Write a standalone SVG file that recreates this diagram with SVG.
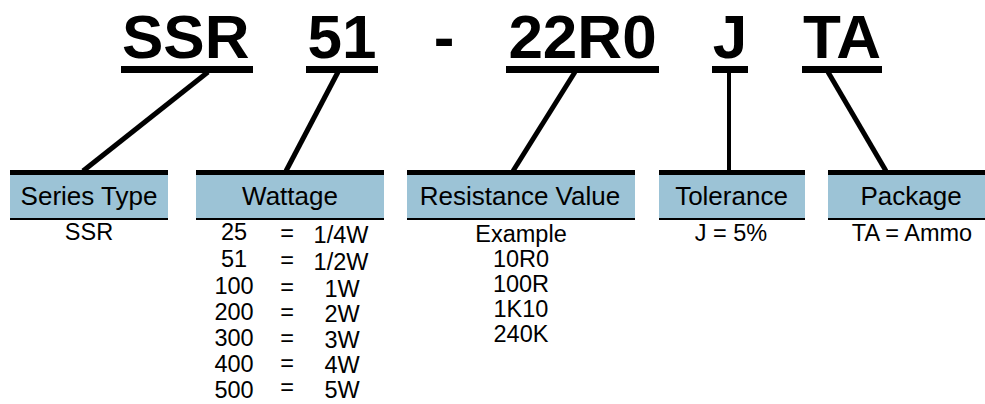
<svg xmlns="http://www.w3.org/2000/svg" width="985" height="404" viewBox="0 0 985 404">
<style>
.title{font-family:"Liberation Sans",Arial,sans-serif;font-weight:bold;font-size:62px;fill:#000}
.hdr{font-family:"Liberation Sans",Arial,sans-serif;font-size:26px;fill:#000;text-anchor:middle}
.val{font-family:"Liberation Sans",Arial,sans-serif;font-size:23.5px;fill:#000;text-anchor:middle}
.band{fill:#9cc3d6}
.ul{fill:#000}
.conn{stroke:#000;stroke-width:5;fill:none}
</style>
<rect width="985" height="404" fill="#fff"/>
<g id="title">
<text class="title" x="122" y="58">SSR</text>
<text class="title" x="342" y="58" text-anchor="middle">51</text>
<text class="title" x="444" y="58" text-anchor="middle">-</text>
<text class="title" x="582.5" y="58" text-anchor="middle">22R0</text>
<text class="title" x="730" y="58" text-anchor="middle">J</text>
<text class="title" x="842" y="58" text-anchor="middle">TA</text>
<rect class="ul" x="121" y="66" width="132" height="7"/>
<rect class="ul" x="306" y="66" width="72" height="7"/>
<rect class="ul" x="506" y="66" width="153" height="7"/>
<rect class="ul" x="712" y="66" width="36" height="7"/>
<rect class="ul" x="802" y="66" width="80" height="7"/>
</g>
<g id="connectors">
<line class="conn" x1="208" y1="72" x2="83" y2="171"/>
<line class="conn" x1="338" y1="72" x2="286" y2="171"/>
<line class="conn" x1="575" y1="72" x2="513" y2="171"/>
<line class="conn" x1="729" y1="72" x2="729" y2="171" style="stroke-width:4"/>
<line class="conn" x1="828" y1="72" x2="886" y2="171"/>
</g>
<g id="series-type">
<rect class="band" x="10" y="175" width="158" height="43"/>
<rect class="ul" x="10" y="170" width="158" height="5"/>
<rect class="ul" x="10" y="218" width="158" height="2"/>
<text class="hdr" x="89" y="205">Series Type</text>
<text class="val" x="89" y="240">SSR</text>
</g>
<g id="wattage">
<rect class="band" x="196" y="175" width="188" height="43"/>
<rect class="ul" x="196" y="170" width="188" height="5"/>
<rect class="ul" x="196" y="218" width="188" height="2"/>
<text class="hdr" x="290" y="205">Wattage</text>
<text class="val" x="234" y="240">25</text>
<text class="val" x="234" y="267">51</text>
<text class="val" x="234" y="294">100</text>
<text class="val" x="234" y="320">200</text>
<text class="val" x="234" y="346">300</text>
<text class="val" x="234" y="372">400</text>
<text class="val" x="234" y="398">500</text>
<text class="val" x="287" y="241">=</text>
<text class="val" x="287" y="268">=</text>
<text class="val" x="287" y="295">=</text>
<text class="val" x="287" y="320">=</text>
<text class="val" x="287" y="346">=</text>
<text class="val" x="287" y="371">=</text>
<text class="val" x="287" y="395">=</text>
<text class="val" x="341" y="243">1/4W</text>
<text class="val" x="341" y="270">1/2W</text>
<text class="val" x="342" y="297">1W</text>
<text class="val" x="342" y="322">2W</text>
<text class="val" x="342" y="348">3W</text>
<text class="val" x="342" y="373">4W</text>
<text class="val" x="342" y="398">5W</text>
</g>
<g id="resistance-value">
<rect class="band" x="407" y="175" width="228" height="43"/>
<rect class="ul" x="407" y="170" width="228" height="5"/>
<rect class="ul" x="407" y="218" width="228" height="2"/>
<text class="hdr" x="520" y="205">Resistance Value</text>
<text class="val" x="521" y="242">Example</text>
<text class="val" x="521" y="267">10R0</text>
<text class="val" x="521" y="292">100R</text>
<text class="val" x="521" y="317">1K10</text>
<text class="val" x="521" y="342">240K</text>
</g>
<g id="tolerance">
<rect class="band" x="659" y="175" width="146" height="43"/>
<rect class="ul" x="659" y="170" width="146" height="5"/>
<rect class="ul" x="659" y="218" width="146" height="2"/>
<text class="hdr" x="731.5" y="205">Tolerance</text>
<text class="val" x="731" y="241">J = 5%</text>
</g>
<g id="package">
<rect class="band" x="828" y="175" width="157" height="43"/>
<rect class="ul" x="828" y="170" width="157" height="5"/>
<rect class="ul" x="828" y="218" width="157" height="2"/>
<text class="hdr" x="911" y="205">Package</text>
<text class="val" x="912" y="241">TA = Ammo</text>
</g>
</svg>
